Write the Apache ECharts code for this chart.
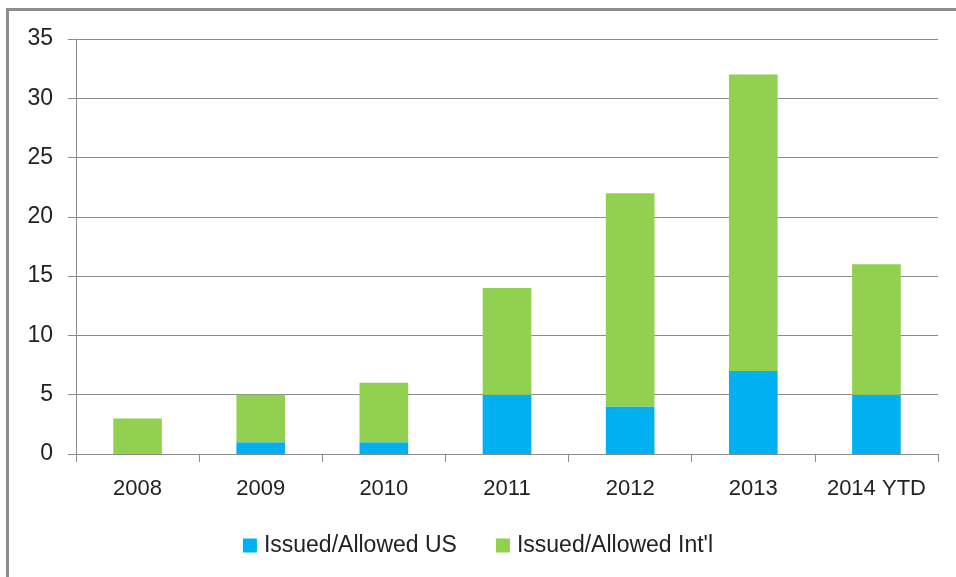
<!DOCTYPE html>
<html>
<head>
<meta charset="utf-8">
<script src="https://cdn.jsdelivr.net/npm/echarts@6/dist/echarts.min.js"></script>
<style>
  html, body { margin: 0; padding: 0; background: #fff; overflow: hidden; }
  #frame { position: absolute; left: 6px; top: 8px; width: 1000px; height: 600px;
           border: 3px solid #8c8c8c; box-sizing: border-box; }
  #chart { position: absolute; left: 0; top: 0; width: 956px; height: 577px; }
</style>
</head>
<body>
<div id="frame"></div>
<div id="chart"></div>
<script>
const years = ['2008', '2009', '2010', '2011', '2012', '2013', '2014 YTD'];
const usValues = [0, 1, 1, 5, 4, 7, 5];
const intlValues = [3, 4, 5, 9, 18, 25, 11];

const font = 'Liberation Sans';
const myChart = echarts.init(document.getElementById('chart'));

const option = {
    animation: false,
    color: ['#00b0f0', '#92d050'],
    grid: { left: 76, right: 18, top: 39, bottom: 123 },
    legend: {
        top: 529,
        left: 'center',
        itemWidth: 14,
        itemHeight: 14,
        itemGap: 39,
        icon: 'rect',
        textStyle: { fontFamily: font, fontSize: 23, color: '#222', padding: [0, 0, 0, 2] },
        data: ['Issued/Allowed US', "Issued/Allowed Int'l"]
    },
    xAxis: {
        type: 'category',
        data: years,
        axisLine: { lineStyle: { color: '#8c8c8c', width: 1 } },
        axisTick: { show: true, length: 8, interval: 0, lineStyle: { color: '#8c8c8c' } },
        axisLabel: { fontFamily: font, fontSize: 22, color: '#222', margin: 24, interval: 0 }
    },
    yAxis: {
        type: 'value',
        min: 0,
        max: 35,
        interval: 5,
        axisLine: { show: true, lineStyle: { color: '#8c8c8c', width: 1 } },
        axisTick: { show: true, length: 8, lineStyle: { color: '#8c8c8c' } },
        splitLine: { lineStyle: { color: '#8c8c8c', width: 1 } },
        axisLabel: { fontFamily: font, fontSize: 23, color: '#222', margin: 23 }
    },
    series: [
        {
            name: 'Issued/Allowed US',
            type: 'bar',
            stack: 'total',
            barWidth: '39.5%',
            data: usValues
        },
        {
            name: "Issued/Allowed Int'l",
            type: 'bar',
            stack: 'total',
            barWidth: '39.5%',
            data: intlValues
        }
    ]
};

myChart.setOption(option);
</script>
</body>
</html>
